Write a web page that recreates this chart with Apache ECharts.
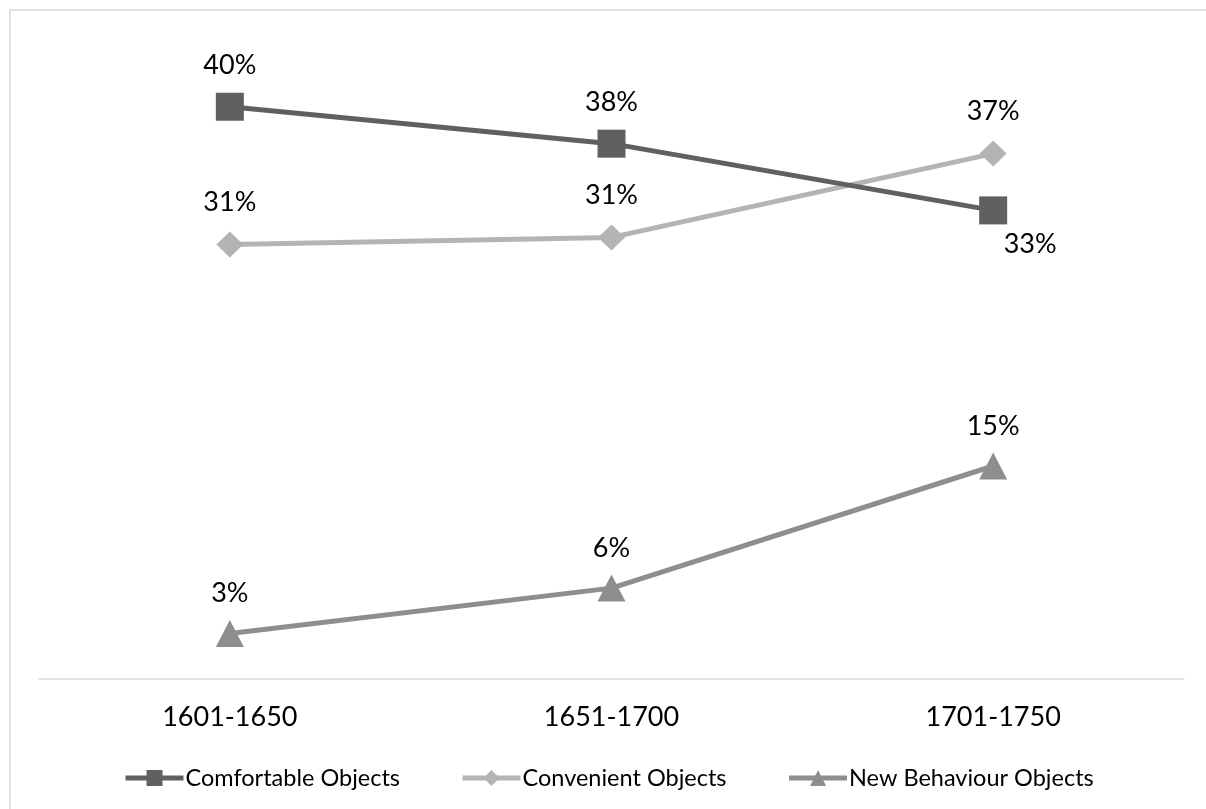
<!DOCTYPE html>
<html>
<head>
<meta charset="utf-8">
<style>
  html, body { margin: 0; padding: 0; background: #fff; }
  #chart { width: 1206px; height: 809px; }
</style>
<script src="https://cdn.jsdelivr.net/npm/echarts@6/dist/echarts.min.js"></script>
</head>
<body>
<div id="chart"></div>
<script>
// Share of household objects by period (percent)
const periods = ['1601-1650', '1651-1700', '1701-1750'];
const comfortable = [40.3, 37.7, 33.0];
const convenient = [30.6, 31.1, 37.0];
const newBehaviour = [3.2, 6.4, 15.0];

const FONT = 'Lato, "Open Sans", sans-serif';
const pct = p => Math.round(p.value) + '%';

const chart = echarts.init(document.getElementById('chart'));

function labelStyle(extra) {
  return Object.assign({
    show: true,
    position: 'top',
    formatter: pct,
    color: '#000',
    fontFamily: FONT,
    fontSize: 27
  }, extra || {});
}

chart.setOption({
  animation: false,
  backgroundColor: '#fff',
  graphic: [{
    type: 'rect',
    shape: { x: 10, y: 10, width: 1400, height: 1000 },
    style: { fill: 'none', stroke: '#d9d9d9', lineWidth: 1.5 },
    silent: true,
    z: -1
  }],
  grid: { left: 39, right: 22, top: 40, bottom: 130 },
  xAxis: {
    type: 'category',
    data: periods,
    boundaryGap: true,
    axisLine: { lineStyle: { color: '#d9d9d9', width: 1.5 } },
    axisTick: { show: false },
    axisLabel: { color: '#000', fontFamily: FONT, fontSize: 27, margin: 25 }
  },
  yAxis: {
    type: 'value',
    min: 0,
    max: 45,
    show: false,
    splitLine: { show: false }
  },
  legend: {
    bottom: 14,
    left: 118,
    itemWidth: 58,
    itemHeight: 20,
    itemGap: 60,
    lineStyle: { width: 5 },
    textStyle: { color: '#000', fontFamily: FONT, fontSize: 23.5, padding: [0, 0, 0, -3] },
    data: ['Comfortable Objects', 'Convenient Objects', 'New Behaviour Objects']
  },
  series: [
    {
      name: 'Comfortable Objects',
      type: 'line',
      // last point carries its label below-right of the marker
      data: comfortable.map((v, i) => i === 2
        ? { value: v, label: { position: 'bottom', offset: [37, -8] } }
        : v),
      color: '#606060',
      symbol: 'rect',
      symbolSize: 28,
      lineStyle: { width: 5, color: '#606060' },
      itemStyle: { color: '#606060' },
      label: labelStyle({ distance: 14 }),
      z: 3
    },
    {
      name: 'Convenient Objects',
      type: 'line',
      data: convenient,
      color: '#b4b4b4',
      symbol: 'diamond',
      symbolSize: [27, 26],
      lineStyle: { width: 5, color: '#b4b4b4' },
      itemStyle: { color: '#b4b4b4' },
      label: labelStyle({ distance: 16 }),
      z: 2
    },
    {
      name: 'New Behaviour Objects',
      type: 'line',
      data: newBehaviour,
      color: '#8e8e8e',
      symbol: 'triangle',
      symbolSize: [28, 27],
      lineStyle: { width: 5, color: '#8e8e8e' },
      itemStyle: { color: '#8e8e8e' },
      label: labelStyle({ distance: 13 }),
      z: 2
    }
  ]
});
</script>
</body>
</html>
